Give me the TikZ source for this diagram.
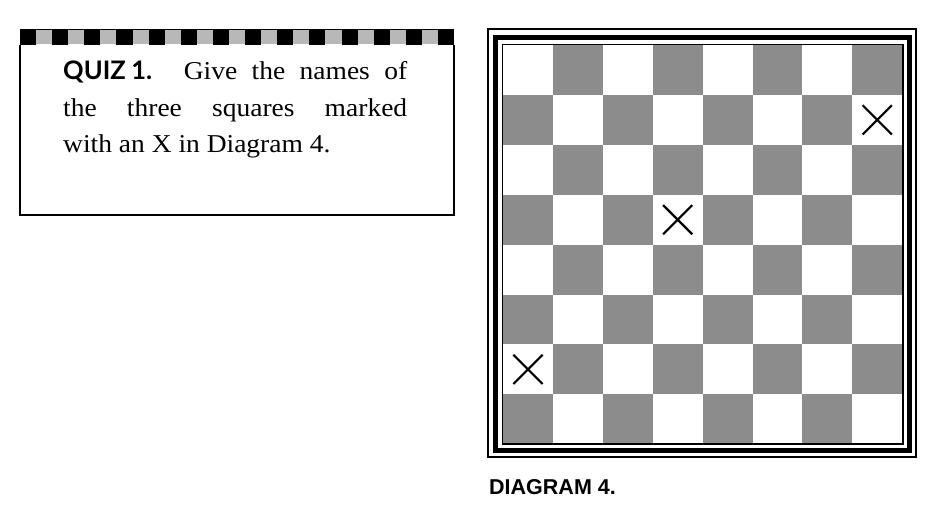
\documentclass[tikz,border=0pt]{standalone}
\usepackage{fontspec}
\usetikzlibrary{shapes.misc}
\newfontfamily\quizserif[FakeStretch=1.07]{Liberation Serif}
\newfontfamily\quizsans{Lato}
\newfontfamily\capsans{Liberation Sans}
\definecolor{boardgray}{gray}{0.55}
\definecolor{stripgray}{gray}{0.72}

\begin{document}
\begin{tikzpicture}[
    x=1pt, y=1pt,
    line/.style={
        anchor=base west,
        inner sep=0pt,
        font=\quizserif\fontsize{25.7}{36.7}\selectfont
    },
    sqbox/.style={
        rectangle,
        minimum size=49.9pt,
        inner sep=0pt,
        draw=none
    },
    xmark/.style={
        cross out,
        draw=black,
        minimum size=27pt,
        inner sep=0pt,
        line width=2.2pt
    },
    caption/.style={
        anchor=base west,
        inner sep=0pt,
        font=\capsans\bfseries\fontsize{21.5}{24}\selectfont
    }
]
\useasboundingbox (0,0) rectangle (947,523);

% Quiz box
\draw[line width=1pt] (20,493.3) -- (454,493.3);
\foreach \k in {0,...,13}{
    \fill[black] ({20+32.15*\k},493.5) rectangle ++(16.07,-15.5);
}
\foreach \k in {0,...,12}{
    \fill[stripgray] ({36.07+32.15*\k},492.5) rectangle ++(16.08,-13.5);
}
\draw[line width=1.5pt] (20,478) -- (20,308) -- (454,308) -- (454,478);

\node[line] (l1) at (63,443.7) {\makebox[344pt][s]{{\quizsans\bfseries\fontsize{25.5}{28}\selectfont QUIZ\kern0.22em1.} Give the names of}};
\node[line] (l2) at (63,406.7) {\makebox[344pt][s]{the three squares marked}};
\node[line] (l3) at (63,370) {with an X in Diagram 4.};

% Board
\foreach \c in {1,...,8}{
    \foreach \r in {1,...,8}{
        \pgfmathtruncatemacro{\shade}{mod(\c+\r,2)}
        \ifnum\shade=1 \def\sqfill{boardgray}\else\def\sqfill{white}\fi
        \node[sqbox, fill=\sqfill] (s-\c-\r) at ({503+(\c-0.5)*49.9},{478-(\r-0.5)*49.9}) {};
    }
}

% Frame lines
\draw[line width=1.5pt] (502.5,478.5) rectangle (903,79);
\draw[line width=5pt] (495.5,485.5) rectangle (909.5,72.7);
\draw[line width=2pt] (487.5,493.5) rectangle (916,66);

% Marked squares
\node[xmark] (x1) at (s-8-2) {};
\node[xmark] (x2) at (s-4-4) {};
\node[xmark] (x3) at (s-1-7) {};

\node[caption] (cap) at (489,28.7) {DIAGRAM 4.};

\end{tikzpicture}
\end{document}
